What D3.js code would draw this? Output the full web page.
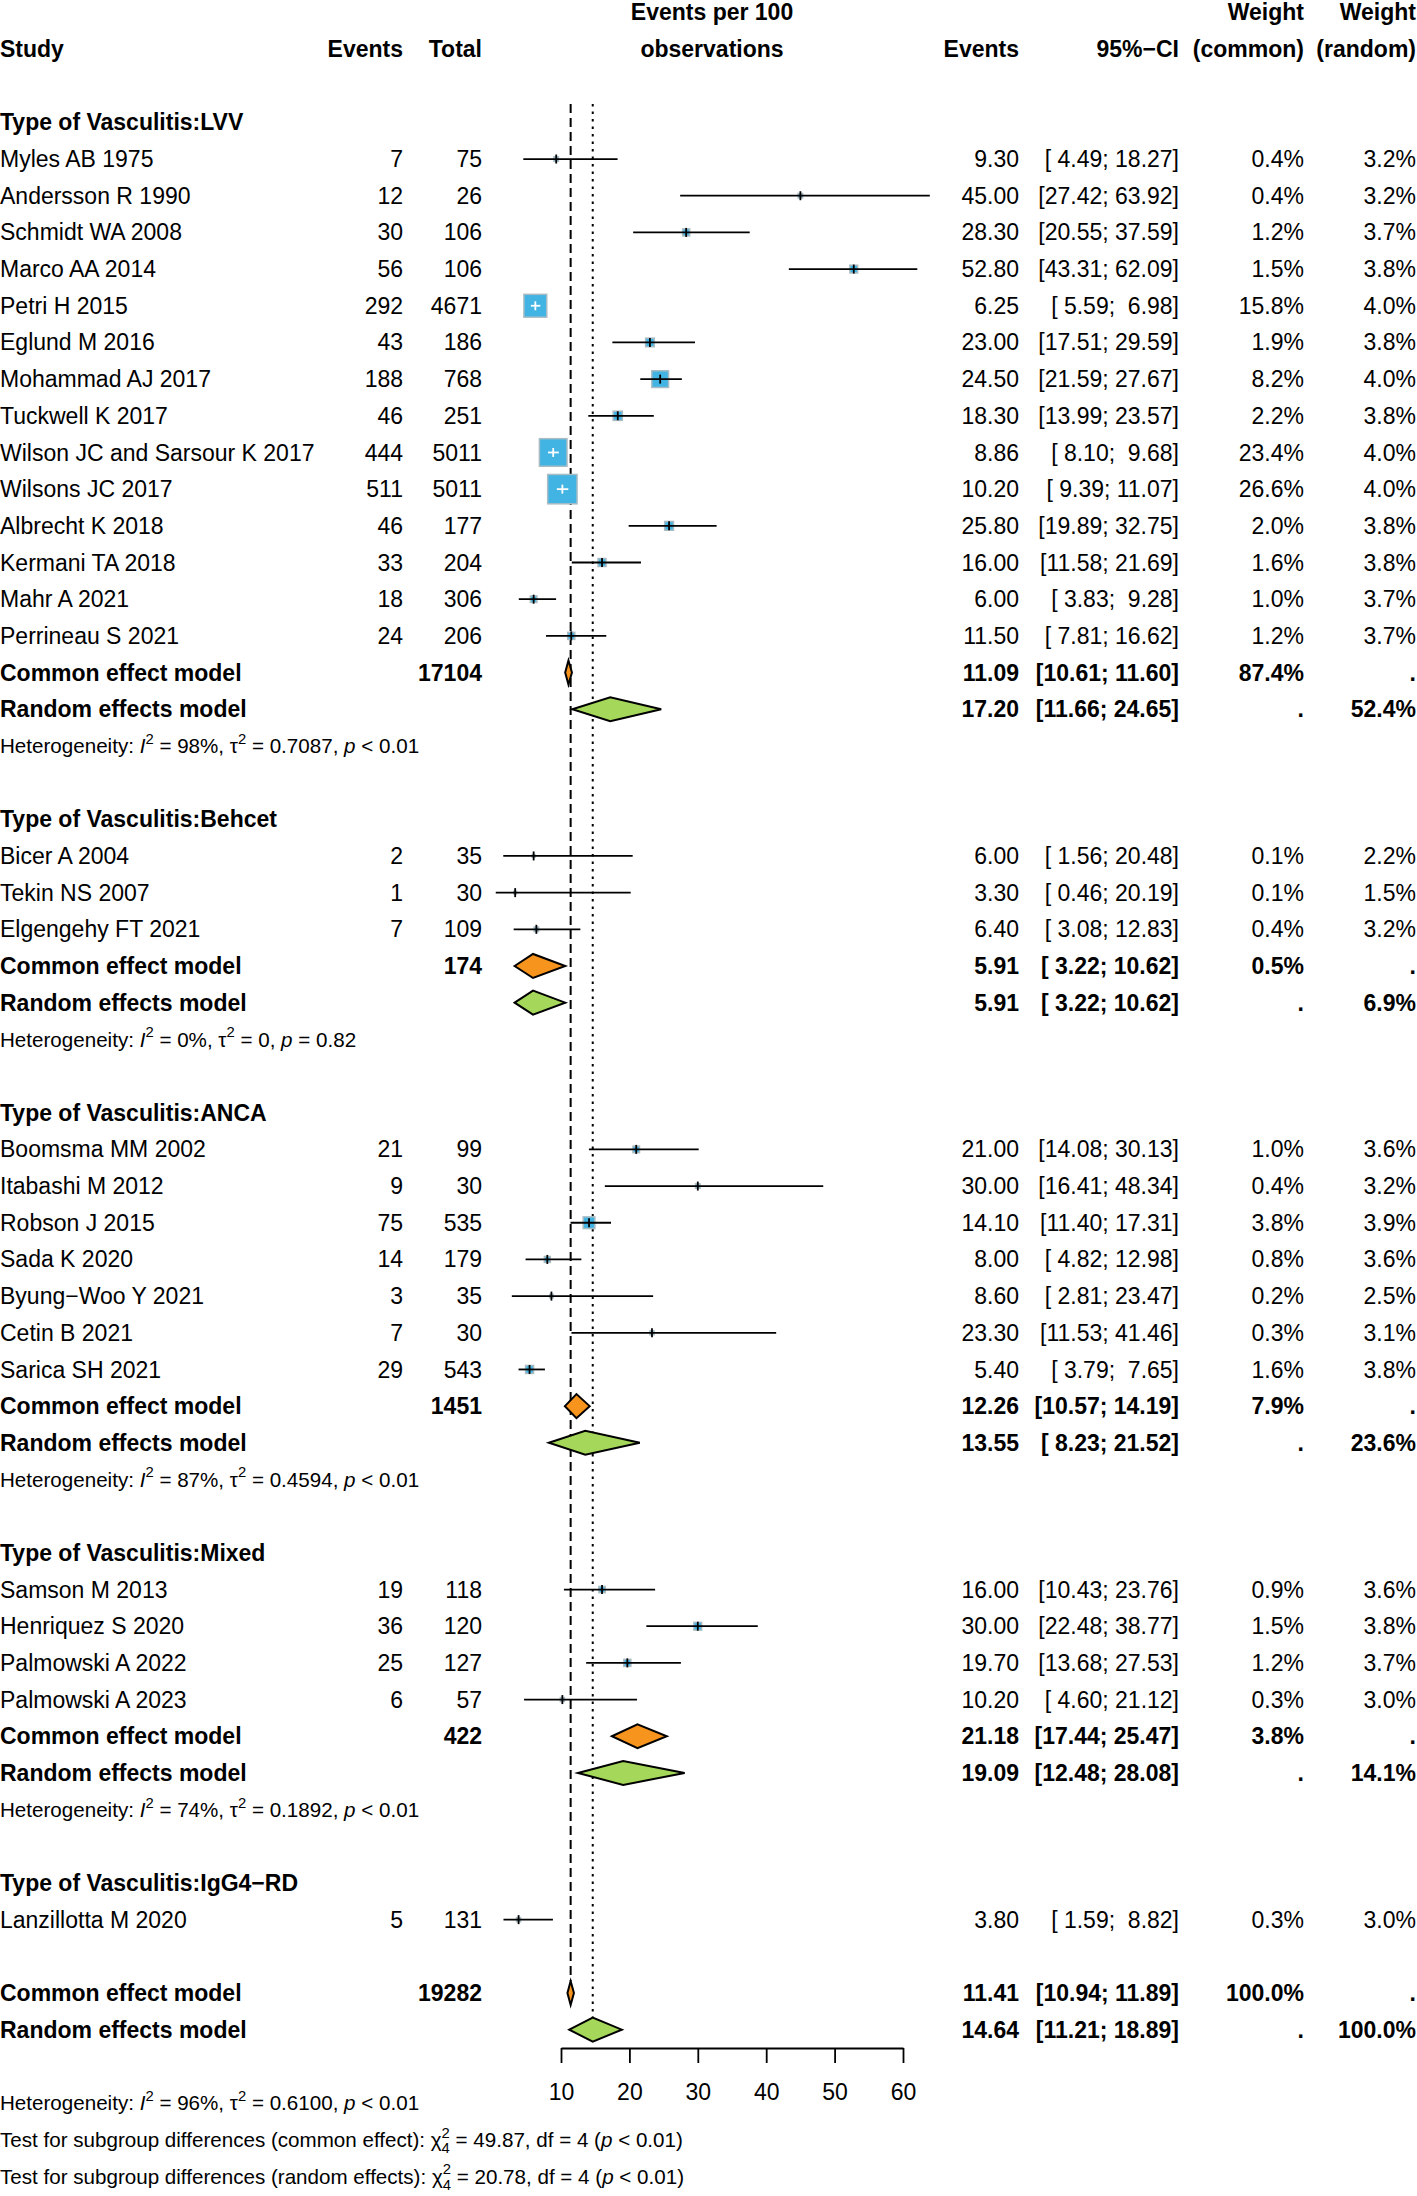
<!DOCTYPE html>
<html>
<head>
<meta charset="utf-8">
<script src="https://cdn.jsdelivr.net/npm/d3@7"></script>
<style>
  body { margin: 0; background: #fff; }
  text { font-family: "Liberation Sans", Arial, Helvetica, sans-serif; fill: #000; white-space: pre; }
</style>
</head>
<body>
<div id="chart"></div>
<script>
// ---- data ----
var groupLabels = ["LVV", "Behcet", "ANCA", "Mixed", "IgG4−RD"];

var studyNames = [
  "Myles AB 1975", "Andersson R 1990", "Schmidt WA 2008", "Marco AA 2014", "Petri H 2015",
  "Eglund M 2016", "Mohammad AJ 2017", "Tuckwell K 2017", "Wilson JC and Sarsour K 2017",
  "Wilsons JC 2017", "Albrecht K 2018", "Kermani TA 2018", "Mahr A 2021", "Perrineau S 2021",
  "Bicer A 2004", "Tekin NS 2007", "Elgengehy FT 2021",
  "Boomsma MM 2002", "Itabashi M 2012", "Robson J 2015", "Sada K 2020", "Byung−Woo Y 2021",
  "Cetin B 2021", "Sarica SH 2021",
  "Samson M 2013", "Henriquez S 2020", "Palmowski A 2022", "Palmowski A 2023",
  "Lanzillotta M 2020"
];
var studyGroup = [0,0,0,0,0,0,0,0,0,0,0,0,0,0, 1,1,1, 2,2,2,2,2,2,2, 3,3,3,3, 4];
var events = [7,12,30,56,292,43,188,46,444,511,46,33,18,24, 2,1,7, 21,9,75,14,3,7,29, 19,36,25,6, 5];
var totals = [75,26,106,106,4671,186,768,251,5011,5011,177,204,306,206, 35,30,109, 99,30,535,179,35,30,543, 118,120,127,57, 131];
var rate  = [9.30,45.00,28.30,52.80,6.25,23.00,24.50,18.30,8.86,10.20,25.80,16.00,6.00,11.50,
             6.00,3.30,6.40, 21.00,30.00,14.10,8.00,8.60,23.30,5.40, 16.00,30.00,19.70,10.20, 3.80];
var lower = [4.49,27.42,20.55,43.31,5.59,17.51,21.59,13.99,8.10,9.39,19.89,11.58,3.83,7.81,
             1.56,0.46,3.08, 14.08,16.41,11.40,4.82,2.81,11.53,3.79, 10.43,22.48,13.68,4.60, 1.59];
var upper = [18.27,63.92,37.59,62.09,6.98,29.59,27.67,23.57,9.68,11.07,32.75,21.69,9.28,16.62,
             20.48,20.19,12.83, 30.13,48.34,17.31,12.98,23.47,41.46,7.65, 23.76,38.77,27.53,21.12, 8.82];
var weightCommon = [0.4,0.4,1.2,1.5,15.8,1.9,8.2,2.2,23.4,26.6,2.0,1.6,1.0,1.2,
                    0.1,0.1,0.4, 1.0,0.4,3.8,0.8,0.2,0.3,1.6, 0.9,1.5,1.2,0.3, 0.3];
var weightRandom = [3.2,3.2,3.7,3.8,4.0,3.8,4.0,3.8,4.0,4.0,3.8,3.8,3.7,3.7,
                    2.2,1.5,3.2, 3.6,3.2,3.9,3.6,2.5,3.1,3.8, 3.6,3.8,3.7,3.0, 3.0];

// subgroup summaries (null for single-study subgroup)
var groupTotal     = [17104, 174, 1451, 422, null];
var groupCommonEst = [11.09, 5.91, 12.26, 21.18, null];
var groupCommonLo  = [10.61, 3.22, 10.57, 17.44, null];
var groupCommonHi  = [11.60, 10.62, 14.19, 25.47, null];
var groupCommonW   = [87.4, 0.5, 7.9, 3.8, null];
var groupRandomEst = [17.20, 5.91, 13.55, 19.09, null];
var groupRandomLo  = [11.66, 3.22, 8.23, 12.48, null];
var groupRandomHi  = [24.65, 10.62, 21.52, 28.08, null];
var groupRandomW   = [52.4, 6.9, 23.6, 14.1, null];
var groupI2   = ["98%", "0%", "87%", "74%", null];
var groupTau2 = ["0.7087", "0", "0.4594", "0.1892", null];
var groupP    = ["< 0.01", "= 0.82", "< 0.01", "< 0.01", null];

// overall
var overallTotal = 19282;
var overallCommon = [11.41, 10.94, 11.89];
var overallRandom = [14.64, 11.21, 18.89];
var overallHet = ["96%", "0.6100", "< 0.01"];
var subgroupTests = [["common effect", "49.87", "4", "< 0.01"], ["random effects", "20.78", "4", "< 0.01"]];

var xTicks = [10, 20, 30, 40, 50, 60];

// ---- layout ----
var width = 1417, height = 2196;
var fs = 23, fsSmall = 20.6;
var colStudy = 0, colEvents = 403, colTotal = 482, colRate = 1019, colCI = 1179,
    colWc = 1304, colWr = 1416, colHead = 712;

var x = d3.scaleLinear().domain([10, 60]).range([561, 903]);
var rowY = d3.scaleLinear().domain([0, 58]).range([49, 2176.4]);

var svg = d3.select("#chart").append("svg")
    .attr("width", width)
    .attr("height", height);

function pad5(v) {
  var s = v.toFixed(2);
  while (s.length < 5) s = " " + s;
  return s;
}
function ciText(lo, hi) { return "[" + pad5(lo) + "; " + pad5(hi) + "]"; }

function txt(xx, r, s, anchor, bold, size) {
  size = size || fs;
  return svg.append("text")
    .attr("x", xx)
    .attr("y", rowY(r) + 0.35 * size)
    .attr("text-anchor", anchor || "start")
    .attr("font-weight", bold ? "bold" : "normal")
    .attr("font-size", size)
    .attr("xml:space", "preserve")
    .text(s);
}

// text with italic / superscript / subscript pieces
function rich(xx, r, parts, size) {
  var base = rowY(r) + 0.35 * size;
  var cx = xx;
  parts.forEach(function(p) {
    if (p.sup || p.sub) {
      var w = 0;
      [["sup", -0.45], ["sub", 0.3]].forEach(function(k) {
        if (p[k[0]] == null) return;
        var t = svg.append("text")
          .attr("x", cx).attr("y", base + k[1] * size)
          .attr("font-size", size * 0.72)
          .text(p[k[0]]);
        w = Math.max(w, t.node().getComputedTextLength());
      });
      cx += w;
    } else {
      var t = svg.append("text")
        .attr("x", cx).attr("y", base)
        .attr("font-size", size)
        .attr("font-style", p.it ? "italic" : "normal")
        .attr("xml:space", "preserve")
        .text(p.t);
      cx += t.node().getComputedTextLength();
    }
  });
}

function hetParts(i2, tau2, p) {
  return [{t: "Heterogeneity: "}, {t: "I", it: 1}, {sup: "2"}, {t: " = " + i2 + ", "},
          {t: "τ"}, {sup: "2"}, {t: " = " + tau2 + ", "}, {t: "p", it: 1}, {t: " " + p}];
}

// ---- header ----
txt(colHead, -1, "Events per 100", "middle", true);
txt(colHead, 0, "observations", "middle", true);
txt(colWc, -1, "Weight", "end", true);
txt(colWr, -1, "Weight", "end", true);
txt(colStudy, 0, "Study", "start", true);
txt(colEvents, 0, "Events", "end", true);
txt(colTotal, 0, "Total", "end", true);
txt(colRate, 0, "Events", "end", true);
txt(colCI, 0, "95%−CI", "end", true);
txt(colWc, 0, "(common)", "end", true);
txt(colWr, 0, "(random)", "end", true);

// ---- assign rows ----
var studyRow = [], commonRows = [], randomRows = [];
var r = 2;
groupLabels.forEach(function(g, gi) {
  txt(colStudy, r, "Type of Vasculitis:" + g, "start", true);
  r++;
  studyGroup.forEach(function(sg, i) {
    if (sg === gi) { studyRow[i] = r; r++; }
  });
  if (groupTotal[gi] != null) {
    commonRows.push({r: r, est: groupCommonEst[gi], lo: groupCommonLo[gi], hi: groupCommonHi[gi],
                     total: groupTotal[gi], w: groupCommonW[gi]});
    r++;
    randomRows.push({r: r, est: groupRandomEst[gi], lo: groupRandomLo[gi], hi: groupRandomHi[gi],
                     w: groupRandomW[gi]});
    r++;
    rich(colStudy, r, hetParts(groupI2[gi], groupTau2[gi], groupP[gi]), fsSmall);
    r++;
  }
  r++;
});
var overallCommonRow = r, overallRandomRow = r + 1;
commonRows.push({r: r, est: overallCommon[0], lo: overallCommon[1], hi: overallCommon[2],
                 total: overallTotal, w: 100.0});
randomRows.push({r: r + 1, est: overallRandom[0], lo: overallRandom[1], hi: overallRandom[2], w: 100.0});

// ---- reference lines ----
var lineTop = rowY(1.5);
svg.append("line")
  .attr("x1", x(overallCommon[0])).attr("x2", x(overallCommon[0]))
  .attr("y1", lineTop).attr("y2", rowY(overallCommonRow) - 12)
  .attr("stroke", "#000").attr("stroke-width", 2).attr("stroke-dasharray", "9,5");
svg.append("line")
  .attr("x1", x(overallRandom[0])).attr("x2", x(overallRandom[0]))
  .attr("y1", lineTop).attr("y2", rowY(overallRandomRow) - 12)
  .attr("stroke", "#000").attr("stroke-width", 2).attr("stroke-dasharray", "2.5,5");

// ---- studies ----
var sqSide = function(w) { return 5.5 * Math.sqrt(w) + 1; };

studyNames.forEach(function(name, i) {
  var ry = rowY(studyRow[i]);
  txt(colStudy, studyRow[i], name);
  txt(colEvents, studyRow[i], String(events[i]), "end");
  txt(colTotal, studyRow[i], String(totals[i]), "end");
  txt(colRate, studyRow[i], rate[i].toFixed(2), "end");
  txt(colCI, studyRow[i], ciText(lower[i], upper[i]), "end");
  txt(colWc, studyRow[i], weightCommon[i].toFixed(1) + "%", "end");
  txt(colWr, studyRow[i], weightRandom[i].toFixed(1) + "%", "end");

  var s = sqSide(weightCommon[i]);
  svg.append("rect")
    .attr("x", x(rate[i]) - s / 2).attr("y", ry - s / 2)
    .attr("width", s).attr("height", s)
    .attr("fill", "#42b4e4").attr("stroke", "#a9bcc4").attr("stroke-width", 1.5);
  var inside = (x(upper[i]) - x(lower[i])) < s;
  var col = inside ? "#fff" : "#000";
  svg.append("line")
    .attr("x1", x(lower[i])).attr("x2", x(upper[i]))
    .attr("y1", ry).attr("y2", ry)
    .attr("stroke", col).attr("stroke-width", 1.8);
  svg.append("line")
    .attr("x1", x(rate[i])).attr("x2", x(rate[i]))
    .attr("y1", ry - 4.5).attr("y2", ry + 4.5)
    .attr("stroke", col).attr("stroke-width", 1.8);
});

// ---- summary rows ----
function diamond(d, fill) {
  var ry = rowY(d.r);
  svg.append("polygon")
    .attr("points", [[x(d.lo), ry], [x(d.est), ry - 12], [x(d.hi), ry], [x(d.est), ry + 12]]
      .map(function(p) { return p.join(","); }).join(" "))
    .attr("fill", fill).attr("stroke", "#000").attr("stroke-width", 2)
    .attr("stroke-linejoin", "miter");
}

commonRows.forEach(function(d) {
  txt(colStudy, d.r, "Common effect model", "start", true);
  txt(colTotal, d.r, String(d.total), "end", true);
  txt(colRate, d.r, d.est.toFixed(2), "end", true);
  txt(colCI, d.r, ciText(d.lo, d.hi), "end", true);
  txt(colWc, d.r, d.w.toFixed(1) + "%", "end", true);
  txt(colWr, d.r, ".", "end", true);
  diamond(d, "#f7941d");
});
randomRows.forEach(function(d) {
  txt(colStudy, d.r, "Random effects model", "start", true);
  txt(colRate, d.r, d.est.toFixed(2), "end", true);
  txt(colCI, d.r, ciText(d.lo, d.hi), "end", true);
  txt(colWc, d.r, ".", "end", true);
  txt(colWr, d.r, d.w.toFixed(1) + "%", "end", true);
  diamond(d, "#a5d85a");
});

// ---- axis ----
var axisY = rowY(overallRandomRow) + 18.3;
var axis = svg.append("g")
  .attr("transform", "translate(0," + axisY + ")")
  .call(d3.axisBottom(x).tickValues(xTicks).tickSize(15).tickSizeOuter(0).tickPadding(21));
axis.select(".domain").attr("stroke", "#000").attr("stroke-width", 1.8);
axis.selectAll(".tick line").attr("stroke", "#000").attr("stroke-width", 1.8);
axis.selectAll(".tick text")
  .attr("font-size", fs)
  .attr("font-family", "'Liberation Sans', Arial, sans-serif")
  .attr("fill", "#000");

// ---- bottom text ----
rich(colStudy, overallRandomRow + 2, hetParts(overallHet[0], overallHet[1], overallHet[2]), fsSmall);
subgroupTests.forEach(function(t, k) {
  rich(colStudy, overallRandomRow + 3 + k, [
    {t: "Test for subgroup differences (" + t[0] + "): "}, {t: "χ"}, {sup: "2", sub: t[2]},
    {t: " = " + t[1] + ", df = " + t[2] + " ("}, {t: "p", it: 1}, {t: " " + t[3] + ")"}
  ], fsSmall);
});
</script>
</body>
</html>
